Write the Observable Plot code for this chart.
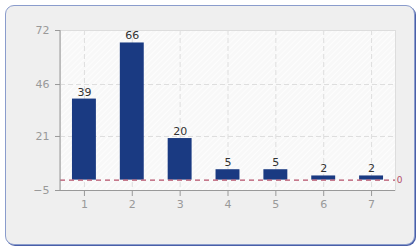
<!DOCTYPE html>
<html><head><meta charset="utf-8">
<script src="https://cdn.jsdelivr.net/npm/d3@7"></script>
<script src="https://cdn.jsdelivr.net/npm/@observablehq/plot@0.6"></script>
<style>
html,body{margin:0;padding:0;background:#fff;}
#wrap{position:relative;width:420px;height:250px;}
#frame{position:absolute;left:5px;top:5px;width:408px;height:238px;border:1px solid #8a9ccc;border-radius:9px;background:#efefef;box-shadow:1px 1px 0 #4a5fa8;}
#chart{position:absolute;left:0;top:0;}
</style></head>
<body>
<div id="wrap"><div id="frame"></div><div id="chart"></div></div>
<script>
const categories = ["1","2","3","4","5","6","7"];
const values = [39, 66, 20, 5, 5, 2, 2];
const yTicks = [72, 46, 21, -5];
const gridYTicks = [46, 21];
const refValue = [0];

const data = categories.map((c, i) => ({cat: c, v: values[i]}));
const font = "Tahoma, 'DejaVu Sans', sans-serif";

const plot = Plot.plot({
  width: 420, height: 250,
  marginLeft: 60, marginRight: 25, marginTop: 30, marginBottom: 60,
  style: {background: "transparent", fontFamily: font, fontSize: "10.5px"},
  x: {domain: categories, paddingInner: 0.5, paddingOuter: 0.25, round: false, label: null},
  y: {domain: [-5, 72], label: null},
  marks: [
    Plot.frame({fill: "url(#hatch)", stroke: "#dddddd"}),
    Plot.gridY(gridYTicks, {stroke: "#dedede", strokeOpacity: 1, strokeDasharray: "5,3"}),
    Plot.gridX(categories, {stroke: "#dedede", strokeOpacity: 1, strokeDasharray: "5,3"}),
    Plot.barY(data, {x: "cat", y: "v", fill: "#1a3a82"}),
    Plot.ruleY(refValue, {stroke: "#b5506a", strokeDasharray: "5,4", strokeWidth: 1.2}),
    Plot.text(refValue, {x: () => categories[categories.length-1], y: d => d, text: d => String(d), dx: 28, fill: "#b5506a", fontSize: 9, textAnchor: "middle"}),
    Plot.text(data, {x: "cat", y: "v", text: d => String(d.v), dy: -7, fill: "#333", fontSize: 11}),
    Plot.axisY(yTicks, {tickSize: 5, tickPadding: 6, stroke: "#999", color: "#999", fontSize: 11}),
    Plot.axisX(categories, {tickSize: 6, tickPadding: 4, stroke: "#999", color: "#999", fontSize: 11}),
    Plot.ruleY([-5], {stroke: "#999"})
  ]
});

const svg = d3.select(plot);
const defs = svg.insert("defs", ":first-child");
const pat = defs.append("pattern").attr("id", "hatch").attr("patternUnits", "userSpaceOnUse")
  .attr("width", 4).attr("height", 4).attr("patternTransform", "rotate(45)");
pat.append("rect").attr("width", 4).attr("height", 4).attr("fill", "#f8f8f8");
pat.append("line").attr("x1", 0).attr("y1", 0).attr("x2", 0).attr("y2", 4).attr("stroke", "#ffffff").attr("stroke-width", 1.5);
// y axis line along the left edge of the plot area
svg.append("line").attr("x1", 60).attr("x2", 60).attr("y1", 30).attr("y2", 190).attr("stroke", "#999");
document.getElementById("chart").appendChild(plot);
</script>
</body></html>
